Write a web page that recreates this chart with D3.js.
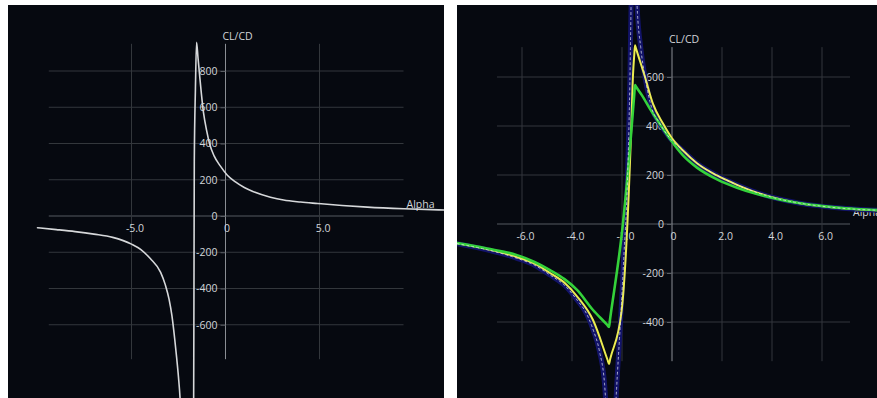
<!DOCTYPE html>
<html>
<head>
<meta charset="utf-8">
<script src="https://cdn.jsdelivr.net/npm/d3@7"></script>
<style>
  html, body { margin: 0; padding: 0; background: #ffffff; }
  svg { display: block; }
  text { font-family: "Open Sans", "Noto Sans", sans-serif; }
</style>
</head>
<body>
<svg id="chart" width="877" height="398"></svg>
<script>
// ---------------- DATA ----------------
// Left panel: single CL/CD curve vs Alpha
const leftAlpha = [-10, -9, -8, -7, -6, -5, -4.5, -4, -3.45, -3.2, -3.0, -2.85, -2.7, -2.6, -2.5, -2.42, -2.35, -2.2, -1.71, -1.66, -1.6, -1.54, -1.46, -1.38, -1.17, -1.0, -0.85, -0.6, -0.27, 0.1, 0.53, 1.0, 1.5, 2.39, 3.09, 4.0, 4.9, 6.2, 7.55, 9.5, 11.7];
const leftRatio = [-65, -75, -86, -100, -118, -155, -185, -235, -311, -380, -460, -550, -680, -780, -890, -1000, -1150, -1600, -1600, 300, 700, 959, 870, 780, 570, 470, 400, 330, 275, 225, 188, 157, 134, 104, 88, 77, 69, 58, 49, 40, 33];

// Right panel: blue glow / white dashed curve
const blueAlpha = [-8.6, -7.4, -6.2, -5.5, -4.88, -4.3, -3.8, -3.4, -3.16, -2.9, -2.7, -2.55, -2.4, -2.24, -2.04, -1.92, -1.8, -1.7, -1.6, -1.5, -1.4, -1.25, -1.08, -0.8, -0.5, -0.1, 0.44, 1.0, 1.8, 2.6, 3.4, 4.2, 5.0, 5.8, 6.6, 7.4, 8.3];
const blueRatio = [-80, -105, -140, -168, -208, -250, -310, -370, -430, -520, -650, -900, -1100, -720, -360, -120, 120, 500, 1100, 1300, 900, 720, 600, 470, 412, 352, 300, 248, 198, 160, 128, 104, 87, 75, 66, 60, 56];

// Right panel: yellow curve
const yellowAlpha = [-8.6, -7.4, -6.2, -5.5, -4.88, -4.3, -3.8, -3.16, -2.58, -2.52, -2.47, -2.02, -1.64, -1.56, -1.51, -1.48, -1.45, -1.08, -0.76, -0.36, 0.0, 0.44, 1.0, 1.8, 2.6, 3.4, 4.2, 5.0, 5.8, 6.6, 7.4, 8.3];
const yellowRatio = [-78, -102, -135, -162, -200, -240, -295, -392, -554, -571, -550, -359, 363, 608, 690, 730, 720, 600, 490, 410, 350, 300, 248, 198, 160, 128, 104, 87, 75, 66, 60, 56];

// Right panel: green curve
const greenAlpha = [-8.6, -7.4, -6.2, -5.5, -4.88, -4.3, -3.8, -3.16, -2.6, -2.52, -2.48, -1.96, -1.64, -1.51, -1.48, -1.45, -1.2, -0.88, -0.5, -0.1, 0.44, 1.0, 1.8, 2.6, 3.4, 4.2, 5.0, 5.8, 6.6, 7.4, 8.3];
const greenRatio = [-78, -100, -127, -155, -188, -225, -269, -351, -411, -420, -390, 4, 363, 529, 567, 562, 525, 470, 410, 350, 280, 230, 182, 148, 122, 102, 87, 76, 67, 61, 56];

// Ticks
const leftXTicks = [-5, 0, 5];
const leftYTicks = [-600, -400, -200, 0, 200, 400, 600, 800];
const rightXTicks = [-6, -4, -2, 0, 2, 4, 6];
const rightYTicks = [-400, -200, 0, 200, 400, 600];
const xTitle = "Alpha";
const yTitle = "CL/CD";

// ---------------- DRAW ----------------
const svg = d3.select("#chart");
const defs = svg.append("defs");
const BG = "#060910";
const TXT = "#d2d5d9";

function xFmt(d) { return d === 0 ? "0" : d.toFixed(1); }
function yFmt(d) { return String(d); }

function panel(cfg) {
  const clipId = "clip" + cfg.id;
  defs.append("clipPath").attr("id", clipId)
    .append("rect").attr("x", cfg.px0).attr("y", cfg.py0)
    .attr("width", cfg.px1 - cfg.px0).attr("height", cfg.py1 - cfg.py0);

  const g = svg.append("g").attr("clip-path", `url(#${clipId})`);
  g.append("rect").attr("x", cfg.px0).attr("y", cfg.py0)
    .attr("width", cfg.px1 - cfg.px0).attr("height", cfg.py1 - cfg.py0)
    .attr("fill", BG);

  const x = cfg.x, y = cfg.y;
  const x0 = x(0), y0 = y(0);

  // grid
  const grid = g.append("g");
  grid.selectAll("line.h").data(cfg.yTicks).join("line")
    .attr("x1", x(cfg.gridX[0])).attr("x2", x(cfg.gridX[1]))
    .attr("y1", d => y(d)).attr("y2", d => y(d))
    .attr("stroke", d => d === 0 ? "#555a60" : "#33373c").attr("stroke-width", 1);
  grid.selectAll("line.v").data(cfg.xTicks).join("line")
    .attr("x1", d => x(d)).attr("x2", d => x(d))
    .attr("y1", y(cfg.gridY[0])).attr("y2", y(cfg.gridY[1]))
    .attr("stroke", d => d === 0 ? "#8a8e94" : "#33373c").attr("stroke-width", 1);

  // y axis labels
  const ya = g.append("g").attr("transform", `translate(${x0},0)`)
    .call(d3.axisLeft(y).tickValues(cfg.yTicks).tickSize(5).tickPadding(3).tickFormat(yFmt));
  ya.select(".domain").remove();
  ya.selectAll(".tick line").attr("stroke", "#5a5e64");
  ya.selectAll(".tick text").attr("fill", TXT).style("font-size", "10.5px")
    .style("font-family", '"Open Sans", "Noto Sans", sans-serif');

  // x axis labels
  const xa = g.append("g").attr("transform", `translate(0,${y0})`)
    .call(d3.axisBottom(x).tickValues(cfg.xTicks).tickSize(0).tickPadding(9).tickFormat(xFmt));
  xa.select(".domain").remove();
  xa.selectAll(".tick text").attr("fill", TXT).style("font-size", "10.5px")
    .style("font-family", '"Open Sans", "Noto Sans", sans-serif')
    .attr("dx", d => d === 0 ? 1 : 3);

  // axis titles
  g.append("text").attr("x", x0 - 3).attr("y", y(cfg.gridY[1]) - 4)
    .attr("fill", TXT).style("font-size", "10.5px").text(yTitle);
  g.append("text").attr("x", x(cfg.gridX[1]) + 3).attr("y", y0 - 8)
    .attr("fill", TXT).style("font-size", "10.5px").text(xTitle);

  const line = d3.line().x(d => x(d[0])).y(d => y(d[1])).curve(d3.curveMonotoneX);
  cfg.series.forEach(s => {
    g.append("path").datum(d3.zip(s.a, s.v))
      .attr("d", line).attr("fill", "none")
      .attr("stroke", s.color).attr("stroke-width", s.width)
      .attr("stroke-opacity", s.opacity || 1)
      .attr("stroke-dasharray", s.dash || null)
      .attr("stroke-linejoin", "round").attr("stroke-linecap", "round");
  });
}

// Left panel
panel({
  id: "L", px0: 8, py0: 5, px1: 444, py1: 398,
  x: d3.scaleLinear().domain([-5, 5]).range([131.5, 319.5]),
  y: d3.scaleLinear().domain([0, 800]).range([216, 71]),
  xTicks: leftXTicks, yTicks: leftYTicks,
  gridX: [-9.4, 9.47], gridY: [-790, 950],
  series: [
    { a: leftAlpha, v: leftRatio, color: "#d6d8da", width: 1.6 }
  ]
});

// Right panel
panel({
  id: "R", px0: 457, py0: 5, px1: 877, py1: 398,
  x: d3.scaleLinear().domain([-6, 6]).range([522, 822]),
  y: d3.scaleLinear().domain([0, 600]).range([224, 77]),
  xTicks: rightXTicks, yTicks: rightYTicks,
  gridX: [-7.0, 7.12], gridY: [-560, 722],
  series: [
    { a: blueAlpha, v: blueRatio, color: "#13146e", width: 5, opacity: 0.95 },
    { a: yellowAlpha, v: yellowRatio, color: "#ecec52", width: 2 },
    { a: greenAlpha, v: greenRatio, color: "#34d23a", width: 2.6 },
    { a: blueAlpha, v: blueRatio, color: "#dfe2f0", width: 1, dash: "2,3", opacity: 0.75 }
  ]
});
</script>
</body>
</html>
